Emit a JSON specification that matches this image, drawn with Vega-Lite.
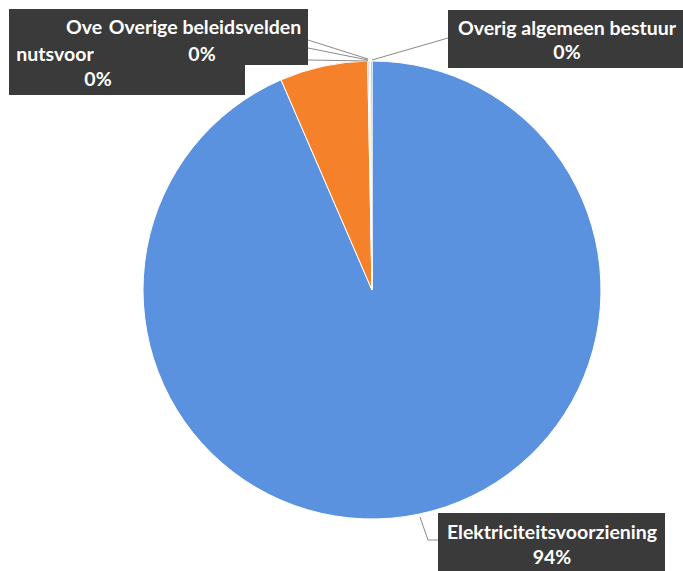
{
  "$schema": "https://vega.github.io/schema/vega-lite/v6.json",
  "autosize": "none",
  "padding": 0,
  "width": 683,
  "height": 571,
  "background": "#ffffff",
  "config": {"view": {"stroke": null}, "axis": {"disable": true}, "text": {"font": "Lato", "fontWeight": "bold", "fontSize": 19.5, "fill": "#ffffff", "align": "center", "baseline": "middle"}},
  "datasets": {
    "slices": [
      {"category": "Elektriciteitsvoorziening", "value": 93.5, "order": 1, "pct": "94%"},
      {"category": "Gasvoorziening", "value": 6.2, "order": 2, "pct": "6%"},
      {"category": "Overige nutsvoorzieningen", "value": 0.1, "order": 3, "pct": "0%"},
      {"category": "Overige beleidsvelden", "value": 0.1, "order": 4, "pct": "0%"},
      {"category": "Overig algemeen bestuur", "value": 0.1, "order": 5, "pct": "0%"}
    ]
  },
  "layer": [
    {
      "data": {"name": "slices"},
      "mark": {"type": "arc", "radius": 229, "stroke": "#ffffff", "strokeWidth": 1},
      "encoding": {
        "theta": {"field": "value", "type": "quantitative", "stack": true},
        "order": {"field": "order", "type": "quantitative"},
        "color": {"field": "category", "type": "nominal", "legend": null,
          "scale": {"domain": ["Elektriciteitsvoorziening", "Gasvoorziening", "Overige nutsvoorzieningen", "Overige beleidsvelden", "Overig algemeen bestuur"],
                    "range": ["#5b92e0", "#f5822a", "#a5a5a5", "#ffc000", "#5b9bd5"]}},
        "x": {"datum": 372, "type": "quantitative", "scale": {"domain": [0, 683], "zero": false, "nice": false}},
        "y": {"datum": 290, "type": "quantitative", "scale": {"domain": [0, 571], "zero": false, "nice": false, "reverse": true}}
      }
    },
    {
      "data": {"name": "slices"},
      "transform": [{"filter": "datum.order == 3"}],
      "mark": {"type": "rule", "stroke": "#8a8a8a", "strokeWidth": 1},
      "encoding": {"x": {"datum": 308, "type": "quantitative"}, "y": {"datum": 40, "type": "quantitative"}, "x2": {"datum": 368}, "y2": {"datum": 59}}
    },
    {
      "data": {"name": "slices"},
      "transform": [{"filter": "datum.order == 3"}],
      "mark": {"type": "rule", "stroke": "#8a8a8a", "strokeWidth": 1},
      "encoding": {"x": {"datum": 308, "type": "quantitative"}, "y": {"datum": 48, "type": "quantitative"}, "x2": {"datum": 368}, "y2": {"datum": 60}}
    },
    {
      "data": {"name": "slices"},
      "transform": [{"filter": "datum.order == 3"}],
      "mark": {"type": "rule", "stroke": "#8a8a8a", "strokeWidth": 1},
      "encoding": {"x": {"datum": 308, "type": "quantitative"}, "y": {"datum": 60, "type": "quantitative"}, "x2": {"datum": 368}, "y2": {"datum": 61}}
    },
    {
      "data": {"name": "slices"},
      "transform": [{"filter": "datum.order == 5"}],
      "mark": {"type": "rule", "stroke": "#8a8a8a", "strokeWidth": 1},
      "encoding": {"x": {"datum": 448, "type": "quantitative"}, "y": {"datum": 38, "type": "quantitative"}, "x2": {"datum": 372}, "y2": {"datum": 60}}
    },
    {
      "data": {"name": "slices"},
      "transform": [{"filter": "datum.order == 1"}],
      "mark": {"type": "rule", "stroke": "#8a8a8a", "strokeWidth": 1},
      "encoding": {"x": {"datum": 420, "type": "quantitative"}, "y": {"datum": 517, "type": "quantitative"}, "x2": {"datum": 428}, "y2": {"datum": 540}}
    },
    {
      "data": {"name": "slices"},
      "transform": [{"filter": "datum.order == 1"}],
      "mark": {"type": "rule", "stroke": "#8a8a8a", "strokeWidth": 1},
      "encoding": {"x": {"datum": 428, "type": "quantitative"}, "y": {"datum": 540, "type": "quantitative"}, "x2": {"datum": 438}, "y2": {"datum": 540}}
    },
    {
      "data": {"name": "slices"},
      "transform": [{"filter": "datum.order == 3"}],
      "mark": {"type": "rect", "fill": "#3a3a3a"},
      "encoding": {"x": {"datum": 9, "type": "quantitative"}, "x2": {"datum": 245}, "y": {"datum": 9, "type": "quantitative"}, "y2": {"datum": 95}}
    },
    {
      "data": {"name": "slices"},
      "transform": [{"filter": "datum.order == 4"}],
      "mark": {"type": "rect", "fill": "#3a3a3a"},
      "encoding": {"x": {"datum": 60, "type": "quantitative"}, "x2": {"datum": 308}, "y": {"datum": 9, "type": "quantitative"}, "y2": {"datum": 65}}
    },
    {
      "data": {"name": "slices"},
      "transform": [{"filter": "datum.order == 5"}],
      "mark": {"type": "rect", "fill": "#3a3a3a"},
      "encoding": {"x": {"datum": 448, "type": "quantitative"}, "x2": {"datum": 683}, "y": {"datum": 10, "type": "quantitative"}, "y2": {"datum": 68}}
    },
    {
      "data": {"name": "slices"},
      "transform": [{"filter": "datum.order == 1"}],
      "mark": {"type": "rect", "fill": "#3a3a3a"},
      "encoding": {"x": {"datum": 438, "type": "quantitative"}, "x2": {"datum": 665}, "y": {"datum": 513, "type": "quantitative"}, "y2": {"datum": 571}}
    },
    {
      "data": {"name": "slices"},
      "transform": [{"filter": "datum.order == 3"}],
      "mark": {"type": "text", "text": "Ove"},
      "encoding": {"x": {"datum": 84, "type": "quantitative"}, "y": {"datum": 28, "type": "quantitative"}}
    },
    {
      "data": {"name": "slices"},
      "transform": [{"filter": "datum.order == 3"}],
      "mark": {"type": "text", "text": "nutsvoor"},
      "encoding": {"x": {"datum": 55, "type": "quantitative"}, "y": {"datum": 55, "type": "quantitative"}}
    },
    {
      "data": {"name": "slices"},
      "transform": [{"filter": "datum.order == 3"}],
      "mark": {"type": "text"},
      "encoding": {"text": {"field": "pct"}, "x": {"datum": 98, "type": "quantitative"}, "y": {"datum": 80, "type": "quantitative"}}
    },
    {
      "data": {"name": "slices"},
      "transform": [{"filter": "datum.order == 4"}],
      "mark": {"type": "text"},
      "encoding": {"text": {"field": "category"}, "x": {"datum": 205, "type": "quantitative"}, "y": {"datum": 28, "type": "quantitative"}}
    },
    {
      "data": {"name": "slices"},
      "transform": [{"filter": "datum.order == 4"}],
      "mark": {"type": "text"},
      "encoding": {"text": {"field": "pct"}, "x": {"datum": 202, "type": "quantitative"}, "y": {"datum": 55, "type": "quantitative"}}
    },
    {
      "data": {"name": "slices"},
      "transform": [{"filter": "datum.order == 5"}],
      "mark": {"type": "text"},
      "encoding": {"text": {"field": "category"}, "x": {"datum": 567, "type": "quantitative"}, "y": {"datum": 29, "type": "quantitative"}}
    },
    {
      "data": {"name": "slices"},
      "transform": [{"filter": "datum.order == 5"}],
      "mark": {"type": "text"},
      "encoding": {"text": {"field": "pct"}, "x": {"datum": 567, "type": "quantitative"}, "y": {"datum": 53, "type": "quantitative"}}
    },
    {
      "data": {"name": "slices"},
      "transform": [{"filter": "datum.order == 1"}],
      "mark": {"type": "text"},
      "encoding": {"text": {"field": "category"}, "x": {"datum": 552, "type": "quantitative"}, "y": {"datum": 533, "type": "quantitative"}}
    },
    {
      "data": {"name": "slices"},
      "transform": [{"filter": "datum.order == 1"}],
      "mark": {"type": "text"},
      "encoding": {"text": {"field": "pct"}, "x": {"datum": 552, "type": "quantitative"}, "y": {"datum": 558, "type": "quantitative"}}
    }
  ]
}
